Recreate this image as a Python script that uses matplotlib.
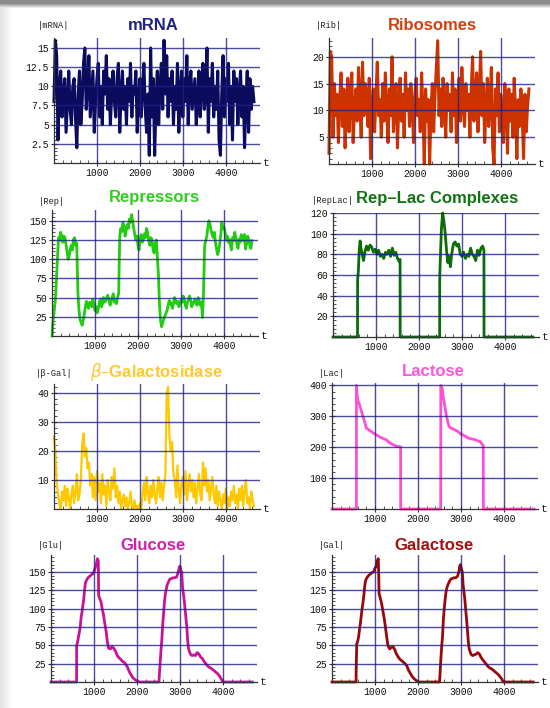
import numpy as np
import matplotlib.pyplot as plt
from matplotlib.ticker import MultipleLocator, FormatStrFormatter

W, H = 550, 708

# ---- data ----
mrna = [8, 16, 14, 3, 10, 12, 6, 9, 11, 4, 8, 12, 7, 5, 10,
        11, 6, 2, 9, 12, 5, 8, 13, 15, 7, 10, 14, 6, 9, 12,
        4, 8, 11, 13, 6, 10, 5, 12, 9, 14, 7, 11, 5, 9, 12,
        8, 6, 11, 13, 4, 9, 12, 7, 10, 5, 11, 8, 13, 6, 10,
        9, 12, 4, 8, 11, 6, 10, 13, 7, 4, 9, 1, 15, 6, 11,
        1, 8, 12, 5, 10, 13, 7, 16, 9, 14, 6, 11, 8, 12, 5,
        10, 7, 13, 4, 9, 12, 6, 11, 8, 14, 5, 10, 12, 7, 9,
        11, 5, 8, 12, 6, 10, 13, 7, 9, 15, 4, 11, 8, 13, 6,
        10, 7, 12, 3, 1, 9, 14, 6, 11, 8, 13, 5, 10, 3, 12,
        8, 11, 5, 9, 12, 6, 10, 2, 8, 12, 4, 11, 7, 10, 8]

rib = [2, 21, 20, 5, 15, 9, 13, 4, 12, 17, 7, 14, 3, 11, 16,
       6, 13, 17, 4, 10, 14, 8, 18, 12, 5, 19, 9, 15, 13, 7,
       16, 1, 11, 14, 6, 13, 19, 9, 12, 5, 15, 8, 17, 10, 4,
       14, 9, 20, 6, 12, 15, 3, 11, 16, 8, 13, 5, 17, 10, 14,
       7, 15, 11, 4, 13, 16, 9, 12, 6, 17, 10, 0, 14, 8, 12,
       0, 10, 15, 6, 13, 18, 23, 9, 14, 7, 16, 11, 5, 15, 10,
       13, 6, 17, 9, 14, 4, 12, 16, 8, 18, 11, 7, 15, 10, 13,
       5, 14, 20, 8, 12, 17, 6, 13, 21, 9, 15, 4, 11, 16, 7,
       12, 18, 3, 0, 14, 9, 17, 6, 13, 10, 4, 15, 11, 2, 14,
       8, 13, 5, 16, 10, 1, 12, 7, 14, 9, 1, 13, 6, 11, 14]

# repressors, one value every 25 time units
rep = [0, 20, 32, 45, 70, 100, 128, 124, 135, 131, 122, 130, 128, 119, 110,
       100, 104, 113, 118, 112, 126, 128, 118, 121, 60, 35, 22, 18, 14, 20,
       28, 38, 45, 40, 36, 44, 42, 38, 48, 42, 33, 38, 30, 35, 44,
       48, 38, 42, 50, 44, 46, 50, 53, 47, 40, 45, 50, 55, 44, 48,
       42, 50, 55, 130, 140, 136, 148, 142, 130, 138, 145, 140, 152, 148, 158,
       150, 140, 132, 125, 130, 118, 112, 127, 132, 122, 126, 133, 128, 140, 134,
       124, 118, 128, 125, 112, 108, 120, 125, 102, 80, 40, 20, 12, 18, 22,
       26, 30, 33, 40, 46, 45, 40, 36, 42, 50, 46, 42, 45, 38, 42,
       47, 44, 52, 48, 40, 36, 44, 48, 52, 46, 38, 42, 45, 48, 42,
       40, 50, 46, 40, 44, 24, 60, 118, 124, 130, 142, 150, 145, 138, 132,
       128, 135, 122, 114, 106, 110, 120, 132, 148, 140, 142, 136, 125, 130, 122,
       126, 118, 112, 128, 124, 135, 128, 120, 114, 126, 122, 132, 128, 124, 132,
       113, 120, 130, 126, 118, 114, 124]

replac_t = [0, 570, 572, 590, 610, 630, 650, 680, 710, 740,
            780, 820, 860, 900, 940, 980, 1020, 1060, 1100, 1140,
            1180, 1220, 1260, 1300, 1340, 1380, 1420, 1460, 1500, 1540,
            1560, 1562, 2480, 2482, 2500, 2520, 2550, 2580, 2610, 2640,
            2670, 2700, 2730, 2760, 2800, 2840, 2880, 2920, 2960, 3000,
            3040, 3080, 3120, 3160, 3200, 3240, 3280, 3320, 3360, 3400,
            3440, 3480, 3510, 3512, 4650]
replac = [0, 0, 55, 64, 84, 93, 86, 80, 74, 82,
          88, 84, 89, 87, 82, 85, 80, 84, 78, 80,
          76, 82, 80, 84, 78, 86, 79, 82, 76, 73,
          75, 0, 0, 58, 80, 104, 120, 112, 100, 84,
          72, 78, 68, 80, 90, 92, 88, 90, 80, 78,
          82, 76, 80, 78, 86, 80, 78, 74, 84, 79,
          86, 88, 84, 0, 0]

bgal = [25, 20, 9, 5, 2, 0, 6, 3, 8, 1, 7, 4, 0, 5, 8,
        2, 6, 12, 3, 5, 10, 22, 26, 18, 21, 14, 16, 8, 12, 4,
        11, 3, 13, 6, 9, 2, 12, 5, 8, 1, 10, 6, 3, 11, 7,
        14, 4, 8, 2, 6, 0, 3, 5, 1, 4, 0, 2, 6, 1, 0,
        3, 0, 1, 0, 2, 0, 5, 9, 3, 11, 6, 2, 8, 4, 10,
        5, 2, 7, 11, 4, 9, 3, 8, 12, 40, 42, 25, 20, 23, 12,
        10, 4, 15, 6, 2, 9, 11, 5, 13, 3, 8, 12, 6, 10, 4,
        9, 2, 7, 12, 5, 3, 16, 8, 14, 6, 10, 3, 7, 11, 5,
        2, 8, 1, 6, 3, 0, 5, 2, 7, 0, 4, 1, 6, 3, 8,
        2, 5, 0, 7, 3, 8, 1, 6, 10, 2, 4, 0, 6, 3, 1]

lac_t = [0, 567, 568, 580, 600, 640, 680, 720, 760, 800,
         840, 900, 960, 1020, 1080, 1140, 1200, 1260, 1320, 1380,
         1440, 1500, 1560, 1595, 1597, 2528, 2530, 2560, 2590, 2620,
         2650, 2690, 2720, 2760, 2800, 2860, 2920, 2980, 3040, 3100,
         3160, 3220, 3280, 3340, 3400, 3450, 3490, 3518, 3520, 4700]
lac = [0, 0, 400, 375, 352, 338, 318, 300, 282, 262,
       258, 252, 246, 241, 236, 231, 228, 224, 217, 211,
       207, 203, 202, 201, 0, 0, 400, 392, 360, 336,
       310, 284, 268, 262, 260, 256, 252, 244, 240, 236,
       230, 228, 226, 224, 220, 218, 210, 205, 0, 0]

glu_pts = [(0, 0), (595, 0), (597, 50), (620, 55), (640, 62), (660, 68), (680, 75),
           (700, 88), (720, 95), (740, 104), (760, 112), (780, 125), (800, 135),
           (830, 139), (860, 142), (900, 144), (940, 146), (980, 148), (1010, 152),
           (1040, 158), (1060, 162), (1080, 168), (1100, 165), (1108, 118),
           (1130, 114), (1160, 110), (1190, 100), (1220, 92), (1250, 80), (1280, 70),
           (1310, 55), (1340, 46), (1380, 45), (1420, 48), (1460, 46), (1500, 42),
           (1540, 36), (1580, 33), (1620, 31), (1660, 28), (1700, 27), (1740, 24),
           (1780, 20), (1820, 14), (1860, 10), (1900, 6), (1940, 4), (1980, 2),
           (2020, 1), (2060, 0), (2510, 0), (2520, 10), (2540, 28), (2560, 45),
           (2580, 60), (2600, 80), (2620, 95), (2640, 110), (2660, 120), (2680, 126),
           (2700, 132), (2730, 136), (2760, 140), (2800, 141), (2840, 142),
           (2880, 142), (2920, 143), (2950, 148), (2980, 155), (3000, 158),
           (3020, 152), (3040, 150), (3060, 128), (3080, 120), (3100, 110),
           (3120, 98), (3140, 86), (3160, 74), (3180, 55), (3200, 45), (3240, 38),
           (3280, 36), (3320, 37), (3360, 36), (3400, 40), (3440, 38), (3480, 34),
           (3520, 32), (3560, 28), (3600, 25), (3640, 22), (3680, 20), (3720, 19),
           (3760, 17), (3800, 15), (3840, 13), (3880, 11), (3920, 8), (3960, 4),
           (4000, 0), (4680, 0)]

gal_pts = [(0, 0), (560, 0), (563, 20), (575, 52), (600, 56), (620, 62), (640, 72),
           (660, 80), (680, 90), (700, 100), (720, 108), (740, 118), (760, 130),
           (780, 138), (810, 142), (850, 145), (890, 147), (930, 149), (970, 150),
           (1000, 155), (1030, 158), (1050, 164), (1075, 168), (1085, 150),
           (1095, 120), (1120, 115), (1150, 108), (1180, 98), (1210, 88),
           (1240, 76), (1270, 62), (1300, 50), (1340, 45), (1380, 47), (1420, 48),
           (1460, 44), (1500, 38), (1540, 34), (1580, 31), (1620, 29), (1660, 27),
           (1700, 25), (1740, 22), (1780, 16), (1820, 12), (1860, 8), (1900, 5),
           (1940, 3), (1980, 1), (2020, 0), (2500, 0), (2510, 8), (2530, 30),
           (2550, 48), (2570, 62), (2590, 85), (2610, 100), (2630, 112), (2650, 122),
           (2670, 128), (2700, 133), (2730, 137), (2760, 140), (2800, 141),
           (2840, 142), (2880, 142), (2920, 144), (2950, 150), (2970, 158),
           (2990, 160), (3010, 154), (3030, 150), (3050, 132), (3070, 122),
           (3090, 112), (3110, 98), (3130, 85), (3150, 70), (3170, 55), (3190, 45),
           (3230, 38), (3270, 36), (3310, 37), (3350, 38), (3390, 40), (3430, 38),
           (3470, 33), (3510, 30), (3550, 27), (3590, 24), (3630, 21), (3670, 19),
           (3710, 18), (3750, 16), (3790, 14), (3830, 12), (3870, 10), (3910, 7),
           (3950, 4), (3980, 0), (4680, 0)]

xticks = [1000, 2000, 3000, 4000]

fig = plt.figure(figsize=(W / 100, H / 100), dpi=100)

# grey frame at top and left, like the screenshot
bg = fig.add_axes([0, 0, 1, 1])
bg.axis('off')
img = np.ones((H, W, 3))
for i in range(13):
    img[:, i] = 0.89 + 0.11 * i / 12
for j in range(9):
    img[j] = np.minimum(img[j], 0.55 + 0.45 * max(0, j - 3) / 5)
bg.imshow(img, aspect='auto', interpolation='bilinear')

XMAX = 4780
PX = 0.043  # pixels per time unit


def panel(left, y0, top, ymax, ystep, yminor, t, v, color, lw, title, tcolor,
          tx, ty, label, ly, fmt='%d'):
    w = XMAX * PX
    ax = fig.add_axes([left / W, 1 - y0 / H, w / W, (y0 - top) / H])
    ax.set_xlim(0, XMAX)
    ax.set_ylim(0, ymax)
    ax.patch.set_alpha(0)
    ax.plot(t, v, color=color, lw=lw, clip_on=False, zorder=2)
    yt = np.arange(ystep, ymax + 0.01, ystep)
    for y in yt:
        ax.plot([0, XMAX], [y, y], color='#1e1e88', lw=1.0, alpha=0.8, zorder=3)
    for x in xticks:
        ax.plot([x, x], [0, ymax], color='#1e1e88', lw=1.0, alpha=0.8, zorder=3)
    for s in ['top', 'right']:
        ax.spines[s].set_visible(False)
    for s in ['left', 'bottom']:
        ax.spines[s].set_color('#333333')
        ax.spines[s].set_linewidth(0.9)
        ax.spines[s].set_zorder(4)
    ax.set_xticks(xticks)
    ax.set_yticks(yt)
    ax.xaxis.set_minor_locator(MultipleLocator(200))
    ax.yaxis.set_minor_locator(MultipleLocator(yminor))
    ax.yaxis.set_major_formatter(FormatStrFormatter(fmt))
    ax.tick_params(which='major', direction='inout', length=4, width=0.8,
                   color='#333333', pad=1.5)
    ax.tick_params(which='minor', direction='in', length=2, width=0.6,
                   color='#333333')
    for lab in ax.get_xticklabels() + ax.get_yticklabels():
        lab.set_fontfamily('Liberation Mono')
        lab.set_fontsize(7)
        lab.set_color('#111111')
    fig.text((left + w + 7) / W, 1 - y0 / H, 't', fontfamily='Liberation Mono',
             fontsize=8, ha='center', va='center', color='#222222')
    fig.text(left / W, 1 - ly / H, label, fontfamily='Liberation Mono',
             fontsize=6.3, ha='center', va='center', color='#222222')
    fig.text(tx / W, 1 - ty / H, title, fontfamily='Liberation Sans',
             fontweight='bold', fontsize=12, ha='center', va='center',
             color=tcolor)
    return ax


t_mrna = np.linspace(0, 4650, len(mrna))
t_rib = np.linspace(0, 4650, len(rib))
t_rep = np.arange(len(rep)) * 25
t_bgal = np.linspace(0, 4650, len(bgal))
glu = np.array(glu_pts)
gal = np.array(gal_pts)

panel(54, 163, 38, 16.3, 2.5, 0.5, t_mrna, mrna, '#0b0b5e', 2.2,
      'mRNA', '#23237f', 153, 25, '|mRNA|', 25, fmt='%g')
panel(329, 164, 38, 23.5, 5, 1, t_rib, rib, '#cc3300', 2.2,
      'Ribosomes', '#d2400f', 432, 25, '|Rib|', 25)
panel(52, 336, 210, 164, 25, 5, t_rep, rep, '#22cc11', 2.0,
      'Repressors', '#33cc22', 154, 198, '|Rep|', 201)
panel(333, 337, 213, 120, 20, 4, replac_t, replac, '#0d6a0d', 2.0,
      'Rep\u2013Lac Complexes', '#127312', 437, 199, '|RepLac|', 200)
panel(54, 509, 384, 43, 10, 2, t_bgal, bgal, '#ffc800', 1.6,
      r'$\beta$' + '\u2013Galactosidase', '#ffc82e', 157, 372, '|\u03b2-Gal|', 373)
panel(332, 509, 383, 408, 100, 20, lac_t, lac, '#ff4fd8', 2.0,
      'Lactose', '#ff55dd', 433, 371, '|Lac|', 373)
panel(51, 682, 555, 173, 25, 5, glu[:, 0], glu[:, 1], '#cc1199', 2.0,
      'Glucose', '#cc22aa', 153, 545, '|Glu|', 545)
panel(332, 682, 555, 173, 25, 5, gal[:, 0], gal[:, 1], '#990808', 2.0,
      'Galactose', '#a31010', 434, 545, '|Gal|', 545)

fig.savefig('out.png', dpi=100)
